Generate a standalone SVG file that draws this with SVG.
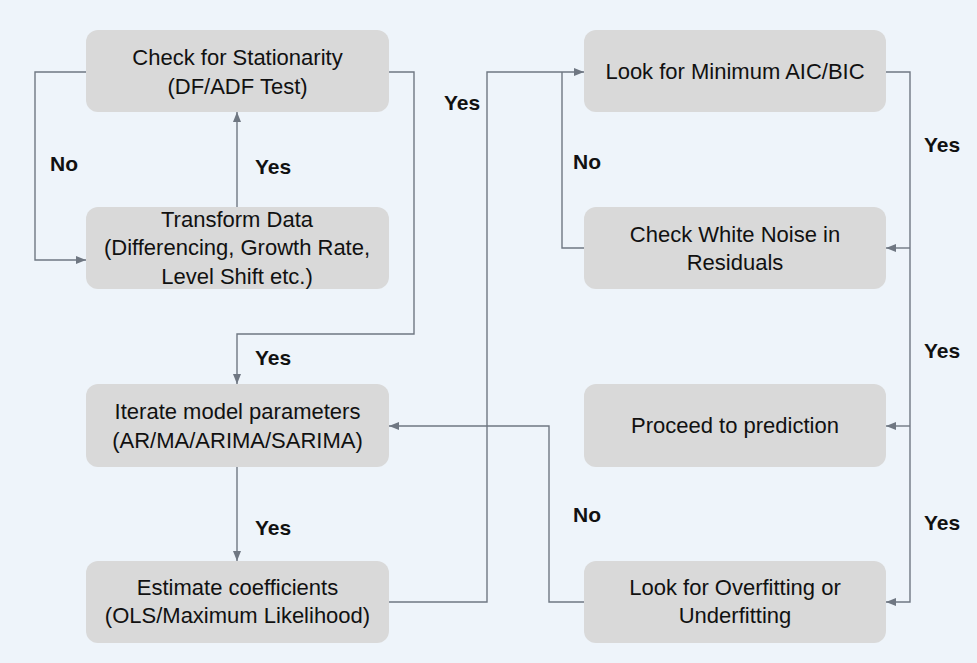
<svg xmlns="http://www.w3.org/2000/svg" width="977" height="663" viewBox="0 0 977 663">
<style>
.bg{fill:#eef4fa}
.box{fill:#d9d9d9}
.t{font-family:"Liberation Sans",Arial,sans-serif;font-size:22px;fill:#111;text-anchor:middle}
.lbl{font-family:"Liberation Sans",Arial,sans-serif;font-size:21px;font-weight:bold;fill:#111}
.c{fill:none;stroke:#6f7782;stroke-width:1.4}
</style>
<defs>
<marker id="ah" markerUnits="userSpaceOnUse" markerWidth="10" markerHeight="10" viewBox="0 0 10 10" refX="10" refY="5" orient="auto">
<path d="M0,1 L10,5 L0,9 Z" fill="#6f7782"/>
</marker>
</defs>
<rect class="bg" x="0" y="0" width="977" height="663"/>
<g id="connectors">
<path class="c" d="M86,72 H35 V260 H86" marker-end="url(#ah)"/>
<path class="c" d="M237,207 V112" marker-end="url(#ah)"/>
<path class="c" d="M389,72 H414 V334 H237 V384" marker-end="url(#ah)"/>
<path class="c" d="M237,467 V561" marker-end="url(#ah)"/>
<path class="c" d="M389,602 H487 V72 H584" marker-end="url(#ah)"/>
<path class="c" d="M584,248 H562 V72"/>
<path class="c" d="M886,72 H910 V602 H886" marker-end="url(#ah)"/>
<path class="c" d="M910,248 H886" marker-end="url(#ah)"/>
<path class="c" d="M910,426 H886" marker-end="url(#ah)"/>
<path class="c" d="M584,602 H549 V426 H389" marker-end="url(#ah)"/>
</g>
<g id="labels">
<text class="lbl" x="50" y="171">No</text>
<text class="lbl" x="255" y="174">Yes</text>
<text class="lbl" x="444" y="110">Yes</text>
<text class="lbl" x="573" y="169">No</text>
<text class="lbl" x="924" y="152">Yes</text>
<text class="lbl" x="255" y="365">Yes</text>
<text class="lbl" x="924" y="358">Yes</text>
<text class="lbl" x="573" y="522">No</text>
<text class="lbl" x="255" y="535">Yes</text>
<text class="lbl" x="924" y="530">Yes</text>
</g>
<g id="n-stationarity">
<rect class="box" x="86" y="30" width="303" height="82" rx="12"/>
<text class="t" x="237.5" y="65">Check for Stationarity</text>
<text class="t" x="237.5" y="94">(DF/ADF Test)</text>
</g>
<g id="n-transform">
<rect class="box" x="86" y="207" width="303" height="82" rx="12"/>
<text class="t" x="237" y="227">Transform Data</text>
<text class="t" x="237" y="255">(Differencing, Growth Rate,</text>
<text class="t" x="237" y="284">Level Shift etc.)</text>
</g>
<g id="n-iterate">
<rect class="box" x="86" y="384" width="303" height="83" rx="12"/>
<text class="t" x="237.5" y="419">Iterate model parameters</text>
<text class="t" x="237.5" y="448">(AR/MA/ARIMA/SARIMA)</text>
</g>
<g id="n-estimate">
<rect class="box" x="86" y="561" width="303" height="82" rx="12"/>
<text class="t" x="237.5" y="595">Estimate coefficients</text>
<text class="t" x="237.5" y="623">(OLS/Maximum Likelihood)</text>
</g>
<g id="n-aic">
<rect class="box" x="584" y="30" width="302" height="82" rx="12"/>
<text class="t" x="735" y="79">Look for Minimum AIC/BIC</text>
</g>
<g id="n-whitenoise">
<rect class="box" x="584" y="207" width="302" height="82" rx="12"/>
<text class="t" x="735" y="242">Check White Noise in</text>
<text class="t" x="735" y="270">Residuals</text>
</g>
<g id="n-predict">
<rect class="box" x="584" y="384" width="302" height="83" rx="12"/>
<text class="t" x="735" y="433">Proceed to prediction</text>
</g>
<g id="n-overfit">
<rect class="box" x="584" y="561" width="302" height="82" rx="12"/>
<text class="t" x="735" y="595">Look for Overfitting or</text>
<text class="t" x="735" y="623">Underfitting</text>
</g>
</svg>
